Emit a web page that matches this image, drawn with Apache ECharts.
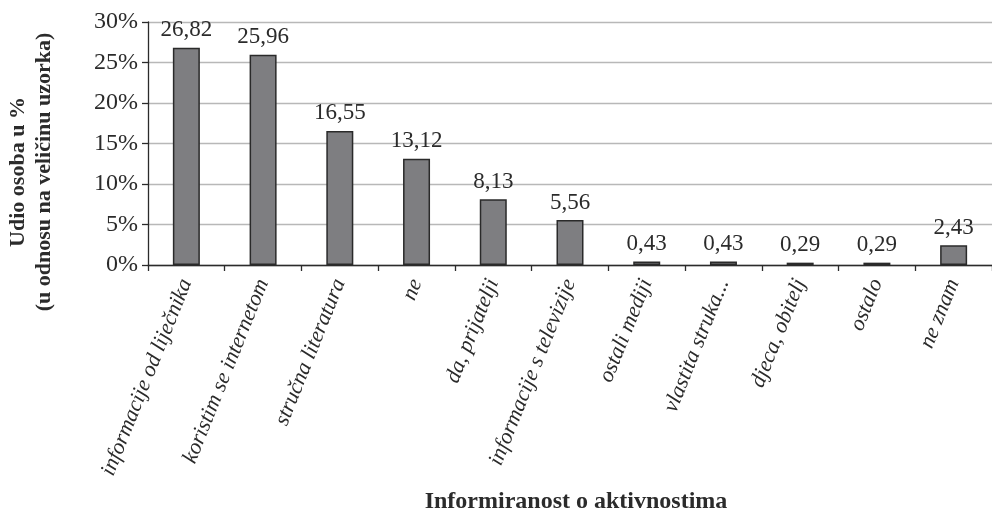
<!DOCTYPE html>
<html>
<head>
<meta charset="utf-8">
<script src="https://cdn.jsdelivr.net/npm/echarts@6/dist/echarts.min.js"></script>
<style>
  html, body { margin: 0; padding: 0; background: #fff; }
  #chart { width: 992px; height: 518px; }
</style>
</head>
<body>
<div id="chart"></div>
<script>
// Categories along the x axis
const categories = [
  'informacije od liječnika',
  'koristim se internetom',
  'stručna literatura',
  'ne',
  'da, prijatelji',
  'informacije s televizije',
  'ostali mediji',
  'vlastita struka...',
  'djeca, obitelj',
  'ostalo',
  'ne znam'
];

// Share of respondents, in percent
const shares = [26.82, 25.96, 16.55, 13.12, 8.13, 5.56, 0.43, 0.43, 0.29, 0.29, 2.43];

// Y axis tick settings
const yMin = 0;
const yMax = 30;
const yStep = 5;

const serif = "'Liberation Serif', 'DejaVu Serif', serif";

const chart = echarts.init(document.getElementById('chart'), null, { renderer: 'canvas' });

chart.setOption({
  backgroundColor: '#ffffff',
  animation: false,
  grid: { left: 148, top: 22, width: 854, height: 243, containLabel: false },
  xAxis: {
    type: 'category',
    data: categories,
    boundaryGap: true,
    axisLine: { lineStyle: { color: '#2b2b2b', width: 1.3 } },
    axisTick: { show: true, length: 6, lineStyle: { color: '#2b2b2b', width: 1.3 } },
    axisLabel: {
      interval: 0,
      rotate: 68,
      margin: 15,
      fontFamily: serif,
      fontStyle: 'italic',
      fontSize: 22,
      color: '#2b2b2b'
    }
  },
  yAxis: {
    type: 'value',
    min: yMin,
    max: yMax,
    interval: yStep,
    axisLine: { show: true, lineStyle: { color: '#2b2b2b', width: 1.3 } },
    axisTick: { show: true, length: 6, lineStyle: { color: '#2b2b2b', width: 1.3 } },
    splitLine: { show: true, lineStyle: { color: '#b8b8b8', width: 1.3 } },
    axisLabel: {
      formatter: '{value}%',
      margin: 10,
      fontFamily: serif,
      fontSize: 24,
      color: '#2b2b2b'
    }
  },
  series: [{
    type: 'bar',
    data: shares,
    barWidth: 27,
    itemStyle: { color: '#7e7e81', borderColor: '#2a2a2a', borderWidth: 1.5 },
    label: {
      show: true,
      position: 'top',
      distance: 6,
      fontFamily: serif,
      fontSize: 23,
      color: '#2b2b2b',
      formatter: p => p.value.toFixed(2).replace('.', ',')
    }
  }],
  graphic: [
    {
      type: 'text',
      x: 31,
      y: 172,
      rotation: Math.PI / 2,
      style: {
        text: 'Udio osoba u %\n(u odnosu na veličinu uzorka)',
        fontFamily: serif,
        fontWeight: 'bold',
        fontSize: 22,
        lineHeight: 26,
        fill: '#2b2b2b',
        align: 'center',
        verticalAlign: 'middle'
      }
    },
    {
      type: 'text',
      x: 576,
      y: 502,
      style: {
        text: 'Informiranost o aktivnostima',
        fontFamily: serif,
        fontWeight: 'bold',
        fontSize: 24,
        fill: '#2b2b2b',
        align: 'center',
        verticalAlign: 'middle'
      }
    }
  ]
});
</script>
</body>
</html>
